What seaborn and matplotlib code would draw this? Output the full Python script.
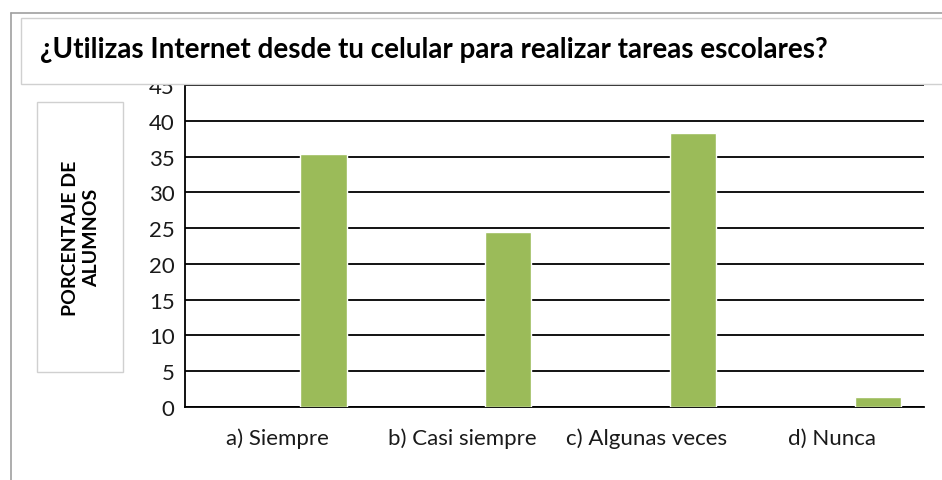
import numpy as np
import pandas as pd
import matplotlib
matplotlib.use("Agg")
import matplotlib.pyplot as plt
from matplotlib.patches import Rectangle
from matplotlib.lines import Line2D
import seaborn as sns

# data
categories = ["a) Siempre", "b) Casi siempre", "c) Algunas veces", "d) Nunca"]
percent = [35.3, 24.4, 38.3, 1.4]
title = "¿Utilizas Internet desde tu celular para realizar tareas escolares?"
ylabel = "PORCENTAJE DE\nALUMNOS"

sns.set_style("white")
plt.rcParams['font.family'] = ['Lato', 'DejaVu Sans']

W, H = 942, 481
fig = plt.figure(figsize=(W / 100, H / 100), dpi=100)

def fx(px):
    return px / W

def fy(py):
    return 1 - py / H

# axes box: x 185..924 px, y 86..408 px
ax = fig.add_axes([fx(185), fy(408), fx(924) - fx(185), fy(86) - fy(408)])

df = pd.DataFrame({"pos": np.arange(len(categories)) + 0.25, "pct": percent})
sns.barplot(data=df, x="pos", y="pct", native_scale=True, width=0.25,
            color="#9BBB59", saturation=1, ax=ax, zorder=3)

ax.set_xlim(-0.5, len(categories) - 0.5)
ax.set_ylim(0, 45)
ax.set_yticks(np.arange(0, 50, 5))
ax.yaxis.grid(True, color="black", linewidth=1.3)
ax.set_axisbelow(True)

# category boundaries as major ticks, labels on minor ticks
ax.set_xticks(np.arange(-0.5, len(categories), 1.0))
ax.set_xticklabels([])
ax.set_xticks(np.arange(len(categories)), minor=True)
ax.set_xticklabels(categories, minor=True)
ax.tick_params(axis="x", which="major", direction="out", length=8, width=1.3, color="black")
ax.tick_params(axis="x", which="minor", length=0, pad=15, labelsize=16, labelcolor="#1a1a1a")
ax.tick_params(axis="y", direction="inout", length=11, width=1.3, color="black",
               labelsize=16, labelcolor="#1a1a1a", pad=2)
ax.set_xlabel("")
ax.set_ylabel("")

for side in ["top", "right"]:
    ax.spines[side].set_visible(False)
for side in ["left", "bottom"]:
    ax.spines[side].set_color("black")
    ax.spines[side].set_linewidth(1.3)

# outer frame (partial, cropped)
fig.add_artist(Line2D([fx(10.5), fx(10.5)], [fy(13.5), fy(481)], color="#a0a0a0",
                      linewidth=1.2, transform=fig.transFigure))
fig.add_artist(Line2D([fx(10.5), fx(942)], [fy(13.5), fy(13.5)], color="#a0a0a0",
                      linewidth=1.2, transform=fig.transFigure))

# title box
fig.add_artist(Rectangle((fx(21), fy(85)), fx(960) - fx(21), fy(18.5) - fy(85),
                         facecolor="white", edgecolor="#d0d0d0", linewidth=1,
                         transform=fig.transFigure, zorder=10))
fig.text(fx(40), fy(50), title, fontsize=20, fontweight="bold", color="black",
         va="center", ha="left", zorder=11)

# y label box
fig.add_artist(Rectangle((fx(37), fy(373)), fx(123) - fx(37), fy(103) - fy(373),
                         facecolor="white", edgecolor="#d0d0d0", linewidth=1,
                         transform=fig.transFigure, zorder=10))
fig.text(fx(81), fy(238), ylabel, fontsize=14, fontweight="bold", color="black",
         rotation=90, va="center", ha="center", multialignment="center",
         linespacing=1.35, zorder=11)

fig.savefig("out.png", dpi=100)
